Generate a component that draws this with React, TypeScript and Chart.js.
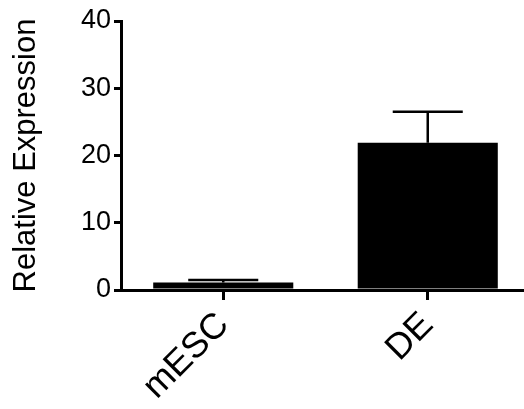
import React, { useEffect, useRef } from "react";
import { Chart, registerables } from "chart.js";

Chart.register(...registerables);

const categories = ["mESC", "DE"];
const means = [1.1, 21.9];
const errors = [0.4, 4.6];
const yTicks = [0, 10, 20, 30, 40];

const FONT = "'Liberation Sans', Arial, Helvetica, sans-serif";

const errorBarPlugin = {
  id: "errorBars",
  afterDatasetsDraw(chart: any) {
    const ctx = chart.ctx;
    const meta = chart.getDatasetMeta(0);
    const yScale = chart.scales.y;
    ctx.save();
    ctx.strokeStyle = "#000";
    ctx.lineWidth = 2.5;
    meta.data.forEach((bar: any, i: number) => {
      const x = bar.x;
      const yBar = yScale.getPixelForValue(means[i]);
      const yTop = yScale.getPixelForValue(means[i] + errors[i]);
      const half = bar.width / 4;
      ctx.beginPath();
      ctx.moveTo(x, yBar);
      ctx.lineTo(x, yTop);
      ctx.moveTo(x - half, yTop);
      ctx.lineTo(x + half, yTop);
      ctx.stroke();
    });
    ctx.restore();
  },
};

export default function App() {
  const ref = useRef<HTMLCanvasElement>(null);
  useEffect(() => {
    if (!ref.current) return;
    const chart = new Chart(ref.current, {
      type: "bar",
      data: {
        labels: categories,
        datasets: [
          {
            data: means,
            backgroundColor: "#000",
            borderWidth: 0,
            categoryPercentage: 1,
            barPercentage: 0.685,
          },
        ],
      },
      options: {
        responsive: false,
        animation: false,
        layout: { padding: { top: 21, left: 0, right: 0, bottom: 0 } },
        plugins: { legend: { display: false }, tooltip: { enabled: false } },
        scales: {
          x: {
            offset: true,
            grid: {
              offset: false,
              drawOnChartArea: false,
              drawTicks: true,
              tickLength: 10,
              color: "#000",
              lineWidth: 3,
            },
            border: { display: true, color: "#000", width: 3 },
            ticks: {
              color: "#000",
              font: { family: FONT, size: 36 },
              maxRotation: 45,
              minRotation: 45,
              padding: 4,
            },
            afterFit(scale: any) {
              scale.height = 119;
            },
          },
          y: {
            min: 0,
            max: 40,
            afterBuildTicks(scale: any) {
              scale.ticks = yTicks.map((v) => ({ value: v }));
            },
            grid: {
              drawOnChartArea: false,
              drawTicks: true,
              tickLength: 7,
              color: "#000",
              lineWidth: 3,
            },
            border: { display: true, color: "#000", width: 3 },
            ticks: {
              color: "#000",
              font: { family: FONT, size: 27 },
              padding: 3,
            },
            title: {
              display: true,
              text: "Relative Expression",
              color: "#000",
              font: { family: FONT, size: 31 },
              padding: { top: 8, bottom: 0 },
            },
            afterFit(scale: any) {
              scale.width = 121;
            },
          },
        },
      },
      plugins: [errorBarPlugin],
    });
    return () => chart.destroy();
  }, []);
  return (
    <div
      style={{
        position: "fixed",
        left: 0,
        top: 0,
        width: 524,
        height: 409,
        overflow: "hidden",
        background: "#fff",
      }}
    >
      <canvas ref={ref} width={530} height={409} style={{ display: "block" }} />
    </div>
  );
}
